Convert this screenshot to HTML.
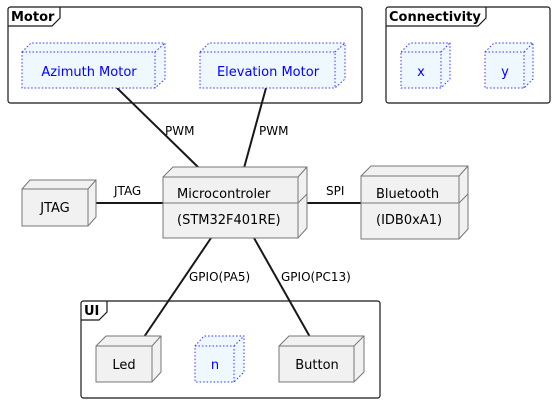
<!DOCTYPE html>
<html><head><meta charset="utf-8"><style>
html,body{margin:0;padding:0;background:#fff;}
svg{display:block;font-family:"DejaVu Sans","Liberation Sans",sans-serif;}
</style></head><body>
<svg width="554" height="403" viewBox="0 0 554 403" xmlns="http://www.w3.org/2000/svg">
<!-- frames -->
<g fill="none" stroke="#181818" stroke-width="1.2">
<rect x="8" y="7" width="354" height="96" rx="2.5"/>
<rect x="386" y="7" width="164" height="96" rx="2.5"/>
<rect x="81" y="301" width="299" height="97" rx="2.5"/>
<path d="M8 26 H52 L60 18 V7"/>
<path d="M386 26 H478 L486 18 V7"/>
<path d="M81 320 H99 L107 312 V301"/>
</g>
<g font-weight="bold" font-size="13" fill="#000">
<text x="11" y="21">Motor</text>
<text x="389" y="21">Connectivity</text>
<text x="84" y="315">UI</text>
</g>
<!-- connectors -->
<g stroke="#181818" stroke-width="2" fill="none">
<line x1="117" y1="88" x2="199" y2="168"/>
<line x1="266" y1="88" x2="244" y2="168"/>
<line x1="88" y1="203" x2="163" y2="203"/>
<line x1="298" y1="203" x2="361" y2="203"/>
<line x1="211" y1="238" x2="144" y2="337"/>
<line x1="254" y1="238" x2="310" y2="337"/>
</g>
<g font-size="12" fill="#000">
<text x="165" y="135">PWM</text>
<text x="259" y="135">PWM</text>
<text x="114" y="195">JTAG</text>
<text x="326" y="195">SPI</text>
<text x="189" y="281">GPIO(PA5)</text>
<text x="281" y="281">GPIO(PC13)</text>
</g>
<!-- solid nodes -->
<g fill="#f1f1f1" stroke="#777" stroke-width="1">
<path d="M22 189 L30 180 H96 V217 L88 226 H22 Z"/><path d="M22 189 H88 V226 M88 189 L96 180" fill="none"/>
<path d="M163 177 L173 167 H307 V228 L298 238 H163 Z"/><path d="M163 177 H298 V238 M298 177 L307 167 M163 203 H298 L307 194" fill="none"/>
<path d="M361 176 L371 166 H468 V229 L459 239 H361 Z"/><path d="M361 176 H459 V239 M459 176 L468 166 M361 203 H459 L468 194" fill="none"/>
<path d="M96 346 L106 336 H161 V372 L152 382 H96 Z"/><path d="M96 346 H152 V382 M152 346 L161 336" fill="none"/>
<path d="M279 346 L289 336 H364 V372 L354 382 H279 Z"/><path d="M279 346 H354 V382 M354 346 L364 336" fill="none"/>
</g>
<!-- dotted nodes -->
<g fill="#f0f8ff" stroke="#3333ff" stroke-width="1" stroke-dasharray="1.5,2">
<path d="M22 52 L31 43 H165 V79 L155 88 H22 Z"/><path d="M22 52 H155 V88 M155 52 L165 43" fill="none"/>
<path d="M200 52 L209 43 H345 V79 L335 88 H200 Z"/><path d="M200 52 H335 V88 M335 52 L345 43" fill="none"/>
<path d="M401 52 L410 43 H450 V79 L441 88 H401 Z"/><path d="M401 52 H441 V88 M441 52 L450 43" fill="none"/>
<path d="M485 52 L494 43 H533 V79 L524 88 H485 Z"/><path d="M485 52 H524 V88 M524 52 L533 43" fill="none"/>
<path d="M195 346 L204 336 H244 V372 L234 382 H195 Z"/><path d="M195 346 H234 V382 M234 346 L244 336" fill="none"/>
</g>
<g font-size="13" fill="#0000ff" text-anchor="middle">
<text x="89" y="76">Azimuth Motor</text>
<text x="268" y="76">Elevation Motor</text>
<text x="421" y="76">x</text>
<text x="505" y="76">y</text>
<text x="215" y="369">n</text>
</g>
<g font-size="13" fill="#000">
<text x="55" y="212" text-anchor="middle">JTAG</text>
<text x="177" y="198">Microcontroler</text>
<text x="177" y="224">(STM32F401RE)</text>
<text x="376" y="198">Bluetooth</text>
<text x="376" y="224">(IDB0xA1)</text>
<text x="124" y="369" text-anchor="middle">Led</text>
<text x="317" y="369" text-anchor="middle">Button</text>
</g>
</svg>
</body></html>
